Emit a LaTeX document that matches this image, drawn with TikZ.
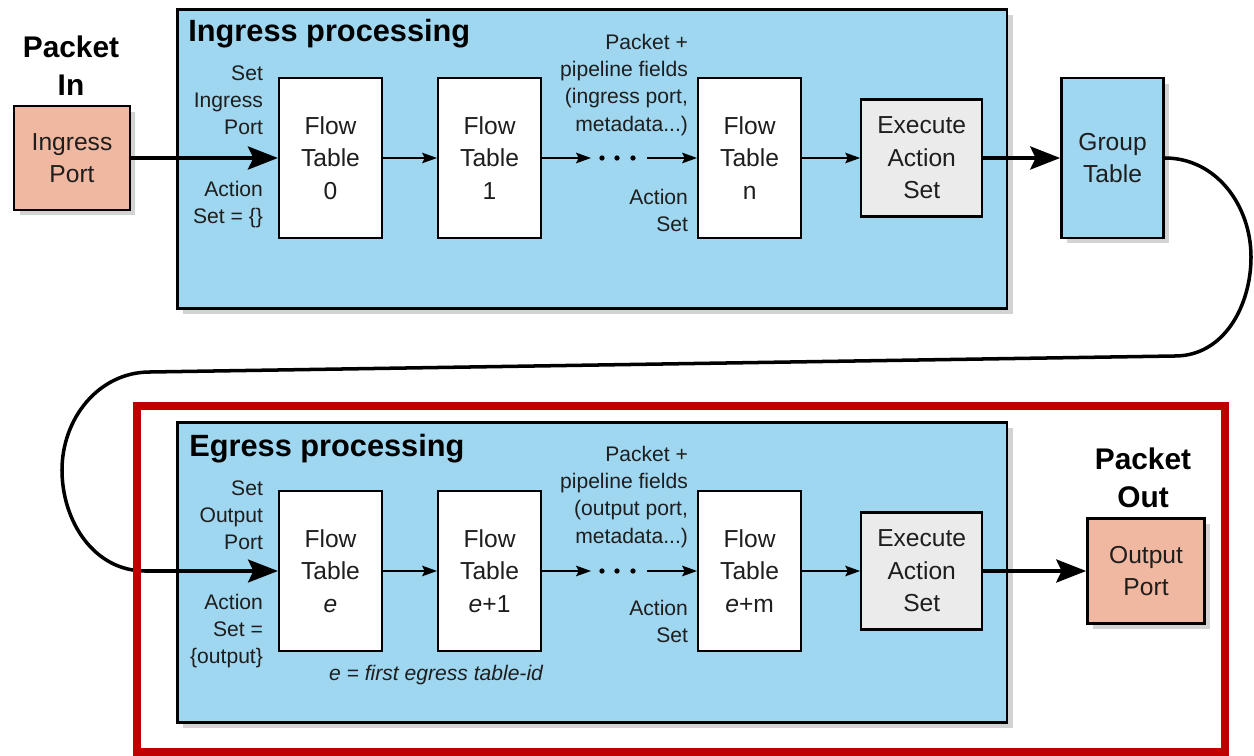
\documentclass[tikz,border=0pt]{standalone}
\usepackage{fontspec}
\setmainfont{Liberation Sans}
\usetikzlibrary{positioning, arrows.meta, shadows}
\definecolor{procblue}{RGB}{159,214,240}
\definecolor{portpink}{RGB}{240,184,160}
\definecolor{execgray}{RGB}{235,235,235}
\definecolor{framered}{RGB}{192,0,0}
\definecolor{labelgray}{RGB}{30,30,30}

\begin{document}
\begin{tikzpicture}[x=0.02cm, y=-0.02cm, node distance=1.08cm,
    shadowed/.style={drop shadow={shadow xshift=1.1mm, shadow yshift=-1.1mm, opacity=.35}},
    procbox/.style={rectangle, draw, line width=1.5pt, fill=procblue, shadowed, anchor=north west, minimum width=16.6cm},
    flowbox/.style={rectangle, draw, line width=1.2pt, fill=white, minimum width=2.06cm, minimum height=3.2cm, align=center, text=labelgray, font=\fontsize{14}{18.5}\selectfont},
    execbox/.style={flowbox, fill=execgray, minimum width=2.42cm, minimum height=2.34cm},
    groupbox/.style={flowbox, fill=procblue, line width=1.5pt, minimum width=2.04cm, shadowed},
    portbox/.style={flowbox, fill=portpink, line width=1.5pt, minimum width=2.32cm, minimum height=2.08cm, shadowed},
    heading/.style={anchor=base west, inner sep=0pt, text=black, font=\fontsize{17.5}{21}\selectfont\bfseries},
    pktlabel/.style={align=center, text=black, font=\fontsize{17}{21.6}\selectfont\bfseries},
    sidelabel/.style={anchor=east, align=right, inner sep=1pt, text=labelgray, font=\fontsize{12}{15.4}\selectfont},
    bigarrow/.style={line width=2.6pt, -{Stealth[length=17pt, width=13pt, inset=3pt]}},
    smallarrow/.style={line width=1pt, -{Stealth[length=8.5pt, width=6pt, inset=1.5pt]}},
    looparrow/.style={line width=2pt, -{Stealth[length=17pt, width=13pt, inset=3pt]}}]
    \useasboundingbox (0,0) rectangle (1254,756);

    % ingress pipeline
    \node[procbox, minimum height=5.98cm](ingbox) at (176,8){};
    \node[heading](ingtitle) at (188,42){Ingress processing};
    \node[portbox](inport) at (72,158){Ingress\\Port};
    \node[pktlabel](pktin) at (71,66){Packet\\In};
    \node[flowbox](ft0) at (330.5,158){Flow\\Table\\0};
    \node[flowbox](ft1)[right=of ft0]{Flow\\Table\\1};
    \node[flowbox](ftn)[right=3.10cm of ft1]{Flow\\Table\\n};
    \node[execbox](exec1)[right=1.16cm of ftn]{Execute\\Action\\Set};
    \node[groupbox](group)[right=1.54cm of exec1]{Group\\Table};
    \node[sidelabel](setin) at (265,100){Set\\Ingress\\Port};
    \node[sidelabel](actin) at (265,205){Action\\Set = \{\}};
    \node[sidelabel](fieldsin) at (690,85){Packet +\\pipeline fields\\(ingress port,\\metadata...)};
    \node[sidelabel](actn) at (690,210){Action\\Set};
    \coordinate(dotsinA) at (591,158);
    \coordinate(dotsoutA) at (647,158);

    % egress pipeline
    \node[procbox, minimum height=6cm](egbox) at (176,421){};
    \node[heading](egtitle) at (189,457){Egress processing};
    \node[flowbox](fte) at (330.5,571){Flow\\Table\\\textit{e}};
    \node[flowbox](fte1)[right=of fte]{Flow\\Table\\\textit{e}+1};
    \node[flowbox](ftem)[right=3.10cm of fte1]{Flow\\Table\\\textit{e}+m};
    \node[execbox](exec2)[right=1.16cm of ftem]{Execute\\Action\\Set};
    \node[portbox, minimum width=2.34cm, minimum height=2.1cm](outport)[right=2.06cm of exec2]{Output\\Port};
    \node[pktlabel](pktout) at (1143,478){Packet\\Out};
    \node[sidelabel](setout) at (265,515){Set\\Output\\Port};
    \node[sidelabel](actout) at (265,631){Action\\Set =\\\{output\}};
    \node[sidelabel](fieldsout) at (690,497){Packet +\\pipeline fields\\(output port,\\metadata...)};
    \node[sidelabel](actm) at (690,621){Action\\Set};
    \node[text=labelgray, font=\fontsize{12}{15}\selectfont\itshape](firstid) at (436,675){e = first egress table-id};
    \coordinate(dotsinB) at (591,571);
    \coordinate(dotsoutB) at (647,571);

    % loop from group table down to egress
    \coordinate(loopR) at (1251,257);
    \coordinate(loopB) at (1175,356);
    \coordinate(loopC) at (150,372);
    \coordinate(loopL) at (62,470);
    \coordinate(loopD) at (145,571);

\foreach \y in {158, 571}{
    \foreach \x in {602, 617, 633}{
        \fill (\x,\y) circle (1.5pt);}}
\foreach \s/\t in {inport/ft0, exec1/group, exec2/outport}{
    \draw[bigarrow] (\s) -- (\t);}
\foreach \s/\t in {ft0/ft1, ft1/dotsinA, dotsoutA/ftn, ftn/exec1, fte/fte1, fte1/dotsinB, dotsoutB/ftem, ftem/exec2}{
    \draw[smallarrow] (\s) -- (\t);}
\draw[looparrow] (group.east) to[out=0, in=90] (loopR) to[out=-90, in=0] (loopB) -- (loopC)
    to[out=180, in=90] (loopL) to[out=-90, in=180] (loopD) -- (fte);

\draw[framered, line width=4.5pt] (137,406) rectangle (1225,752);
\end{tikzpicture}
\end{document}
